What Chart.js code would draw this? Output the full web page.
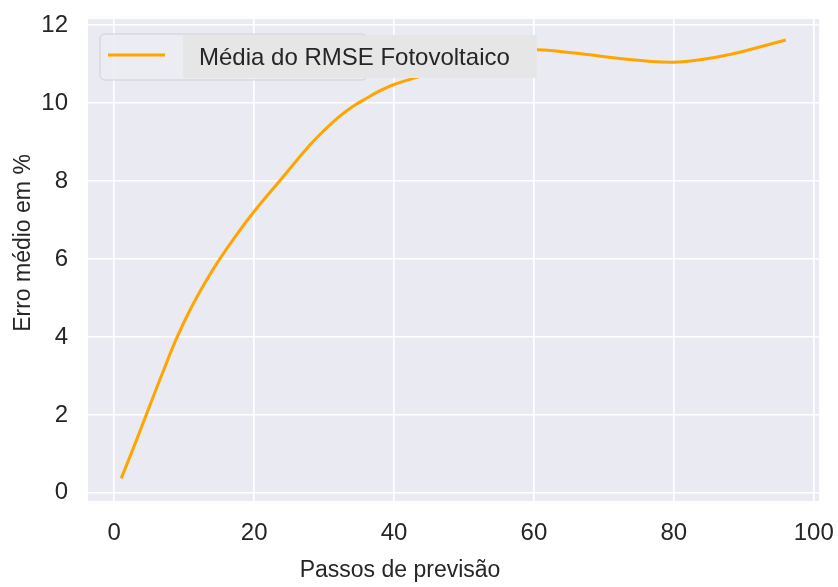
<!DOCTYPE html>
<html>
<head>
<meta charset="utf-8">
<script src="https://cdn.jsdelivr.net/npm/chart.js@4/dist/chart.umd.min.js"></script>
<style>
  html, body { margin: 0; padding: 0; background: #ffffff; }
  #wrap { width: 838px; height: 587px; }
</style>
</head>
<body>
<div id="wrap"><canvas id="c" width="838" height="587"></canvas></div>
<script>
// Forecast step (x) and mean photovoltaic RMSE in % (y)
const steps = [1, 3, 5, 7, 9, 11, 13, 15, 18, 20, 24, 28, 30, 32, 34, 36, 38, 40, 44, 48, 52, 56, 60, 64, 68, 72, 76, 80, 84, 88, 92, 96];
const rmse  = [0.37, 1.27, 2.2, 3.12, 4.0, 4.75, 5.4, 5.98, 6.75, 7.22, 8.08, 8.93, 9.3, 9.63, 9.9, 10.12, 10.32, 10.48, 10.7, 10.92, 11.12, 11.28, 11.37, 11.32, 11.24, 11.15, 11.08, 11.05, 11.12, 11.25, 11.43, 11.62];
const xTicks = [0, 20, 40, 60, 80, 100];
const yTicks = [0, 2, 4, 6, 8, 10, 12];
const seriesLabel = 'Média do RMSE Fotovoltaico';
const xTitle = 'Passos de previsão';
const yTitle = 'Erro médio em %';

const FONT = '"Liberation Sans", Arial, Helvetica, sans-serif';
const TEXT = '#262626';

// Shaded plotting area behind the grid
const plotBackground = {
  id: 'plotBackground',
  beforeDraw(chart) {
    const { ctx, chartArea: a } = chart;
    ctx.save();
    ctx.fillStyle = '#EAEAF2';
    ctx.fillRect(a.left, a.top, a.right - a.left, a.bottom - a.top);
    ctx.restore();
  }
};

// Axis titles
const axisTitles = {
  id: 'axisTitles',
  afterDraw(chart) {
    const { ctx } = chart;
    ctx.save();
    ctx.fillStyle = TEXT;
    ctx.font = '23px ' + FONT;
    ctx.textAlign = 'center';
    ctx.textBaseline = 'middle';
    ctx.fillText(xTitle, 400, 571);
    ctx.translate(24, 243);
    ctx.rotate(-Math.PI / 2);
    ctx.fillText(yTitle, 0, 0);
    ctx.restore();
  }
};

// Legend box drawn on top of the line
const legendBox = {
  id: 'legendBox',
  afterDatasetsDraw(chart) {
    const { ctx } = chart;
    const ds = chart.data.datasets[0];
    ctx.save();
    // rounded frame
    const x = 100, y = 34, w = 267, h = 46, r = 5;
    ctx.beginPath();
    ctx.moveTo(x + r, y);
    ctx.arcTo(x + w, y, x + w, y + h, r);
    ctx.arcTo(x + w, y + h, x, y + h, r);
    ctx.arcTo(x, y + h, x, y, r);
    ctx.arcTo(x, y, x + w, y, r);
    ctx.closePath();
    ctx.fillStyle = 'rgba(236,236,243,0.9)';
    ctx.fill();
    ctx.strokeStyle = '#cfcfd6';
    ctx.lineWidth = 1;
    ctx.stroke();
    // text background
    ctx.fillStyle = '#E6E6E6';
    ctx.fillRect(183, 35, 354, 43);
    // line sample
    ctx.beginPath();
    ctx.moveTo(108, 55);
    ctx.lineTo(165, 55);
    ctx.strokeStyle = ds.borderColor;
    ctx.lineWidth = ds.borderWidth;
    ctx.stroke();
    // label
    ctx.fillStyle = TEXT;
    ctx.font = '24px ' + FONT;
    ctx.textBaseline = 'alphabetic';
    ctx.fillText(ds.label, 199, 65);
    ctx.restore();
  }
};

new Chart(document.getElementById('c'), {
  type: 'line',
  data: {
    datasets: [{
      label: seriesLabel,
      data: steps.map((s, i) => ({ x: s, y: rmse[i] })),
      borderColor: '#FFA500',
      borderWidth: 3,
      pointRadius: 0,
      fill: false,
      tension: 0.4
    }]
  },
  options: {
    responsive: false,
    animation: false,
    layout: { padding: { top: 19, right: 19, left: 0, bottom: 0 } },
    plugins: { legend: { display: false }, tooltip: { enabled: false } },
    scales: {
      x: {
        type: 'linear',
        min: -3.75,
        max: 100.75,
        afterBuildTicks(scale) { scale.ticks = xTicks.map(v => ({ value: v })); },
        afterFit(scale) {
          scale.height = 86;
          scale.paddingLeft = 0; scale.paddingRight = 0;
        },
        grid: { color: '#ffffff', lineWidth: 1.6, drawTicks: false },
        border: { display: false },
        ticks: { color: TEXT, font: { family: FONT, size: 24 }, padding: 18, maxRotation: 0 }
      },
      y: {
        type: 'linear',
        min: -0.21,
        max: 12.16,
        afterBuildTicks(scale) { scale.ticks = yTicks.map(v => ({ value: v })); },
        afterFit(scale) {
          scale.width = 88;
          scale.paddingTop = 0; scale.paddingBottom = 0;
        },
        grid: { color: '#ffffff', lineWidth: 1.6, drawTicks: false },
        border: { display: false },
        ticks: { color: TEXT, font: { family: FONT, size: 24 }, padding: 20 }
      }
    }
  },
  plugins: [plotBackground, legendBox, axisTitles]
});
</script>
</body>
</html>
